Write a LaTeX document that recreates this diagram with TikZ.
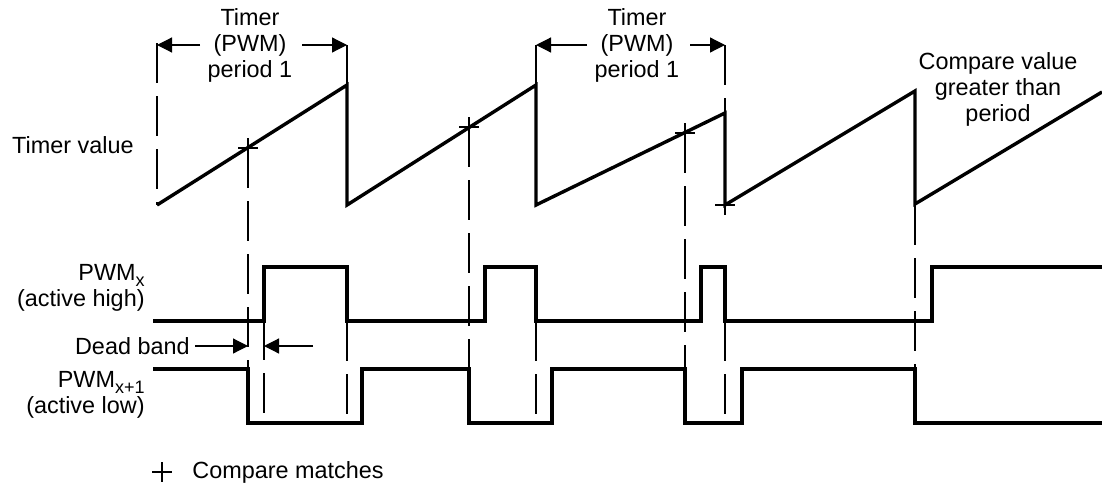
\documentclass[tikz,border=0pt]{standalone}
\usepackage{fontspec}
\setmainfont{Liberation Sans}
\usetikzlibrary{arrows.meta}

\newcommand{\sub}[1]{\raisebox{-0.45ex}{\fontsize{9}{9}\selectfont #1}}

\begin{document}
\begin{tikzpicture}[x=0.5pt,y=-0.5pt]
	\tikzstyle{every node}=[font=\fontsize{11.7}{13}\selectfont, inner sep=0pt]
	\tikzstyle{wave}=[line width=1.7pt, line join=miter]
	\tikzstyle{guide}=[line width=0.6pt, dash pattern=on 20pt off 6.5pt]
	\tikzstyle{fine}=[line width=0.6pt]
	\tikzstyle{dim}=[line width=0.6pt, -{Triangle[length=7.5pt,width=7.5pt]}]
	\useasboundingbox (0,0) rectangle (1102,487);

	% period starts and compare matches
	\coordinate (p0) at (157,205);
	\coordinate (p1) at (347,85);
	\coordinate (p2) at (536,85);
	\coordinate (p3) at (725,113);
	\coordinate (p4) at (915,91);
	\coordinate (m1) at (248,148);
	\coordinate (m2) at (469,127);
	\coordinate (m3) at (685,133);
	\coordinate (m4) at (725,205);

	% labels
	\node (tv) [anchor=east] at (134,145) {Timer value};
	\node (per1) [align=center] at (250,45) {Timer\\(PWM)\\period 1};
	\node (per2) [align=center] at (637,45) {Timer\\(PWM)\\period 1};
	\node (cmpv) [align=center] at (998,89) {Compare value\\greater than\\period};
	\node (pwmx) [anchor=east, align=right] at (145,288) {PWM\sub{x}\\(active high)};
	\node (pwmy) [anchor=east, align=right] at (145,395) {PWM\sub{x+1}\\(active low)};
	\node (db) [anchor=east] at (190,346) {Dead band};
	\node (leg) [anchor=west] at (192,472) {Compare matches};
	\coordinate (legm) at (162,472);

	% timer value
	\draw[wave] (p0) -- (p1) -- (347,205) -- (p2) -- (536,205) -- (p3) -- (725,205)
		-- (p4) -- (915,204) -- (1102,92);

	% PWM outputs
	\draw[wave] (153,321) -- (264,321) -- (264,267) -- (347,267) -- (347,321)
		-- (485,321) -- (485,267) -- (536,267) -- (536,321) -- (701,321) -- (701,267)
		-- (725,267) -- (725,321) -- (932,321) -- (932,267) -- (1102,267);
	\draw[wave] (153,369) -- (248,369) -- (248,423) -- (362,423) -- (362,369)
		-- (469,369) -- (469,423) -- (552,423) -- (552,369) -- (685,369) -- (685,423)
		-- (742,423) -- (742,369) -- (915,369) -- (915,423) -- (1102,423);

	% guide lines
	\draw[guide] (157,43) -- (p0);
	\foreach \p in {p1,p2,p3}
		\draw[guide] (\p |- per1) -- (\p);
	\foreach \m in {m1,m2,m3}
		\draw[guide] (\m) -- (\m |- 0,369);
	\draw[guide] (264,267) -- (264,423);
	\foreach \x in {347,536,725}
		\draw[guide] (\x,321) -- (\x,423);
	\draw[guide] (915,205) -- (915,369);

	% compare marks
	\foreach \m in {m1,m2,m3,m4,legm}
		\draw[fine] (\m) ++(-10,0) -- ++(20,0) (\m) ++(0,-10) -- ++(0,20);

	% period arrows
	\draw[dim] (per1) ++(-50,0) -- (157,45);
	\draw[dim] (per1) ++(52,0) -- (p1 |- per1);
	\draw[dim] (per2) ++(-50,0) -- (p2 |- per2);
	\draw[dim] (per2) ++(53,0) -- (p3 |- per2);

	% dead band
	\draw[dim] (db.east) ++(5,0) -- (248,346);
	\draw[dim] (313,346) -- (264,346);
\end{tikzpicture}
\end{document}
